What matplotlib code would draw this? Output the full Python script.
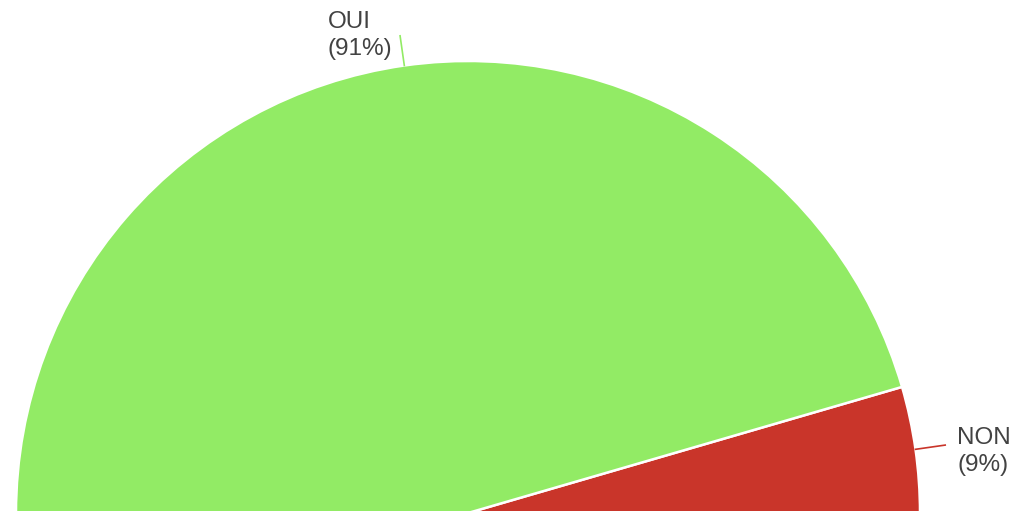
import numpy as np
import matplotlib.pyplot as plt

labels = ['NON', 'OUI']
values = [9, 91]
colors = ['#c9352a', '#92eb65']

W, H = 1011, 511
fig = plt.figure(figsize=(W / 100, H / 100), dpi=100)
ax = fig.add_axes([0, 0, 1, 1])

cx, cy, r = 468, -2, 452
# half pie: the second half of the circle is an invisible filler wedge
wedges, _ = ax.pie(values + [sum(values)], colors=colors + ['none'], startangle=0,
                   counterclock=True, center=(cx, cy), radius=r, frame=True,
                   wedgeprops=dict(edgecolor='white', linewidth=1.8, joinstyle='round'))
wedges[-1].set_edgecolor('none')
ax.set_xlim(0, W)
ax.set_ylim(0, H)
ax.axis('off')

total = sum(values)
start = 0
for lab, v, col in zip(labels, values, colors):
    span = 180 * v / total
    mid = np.deg2rad(start + span / 2)
    start += span
    x0, y0 = cx + r * np.cos(mid), cy + r * np.sin(mid)
    x1, y1 = cx + (r + 30) * np.cos(mid), cy + (r + 30) * np.sin(mid)
    ax.plot([x0, x1], [y0, y1], color=col, linewidth=1.2)
    txt = f'{lab}\n({round(100 * v / total)}%)'
    if np.cos(mid) < 0:
        ax.text(x1 - 8, y1, txt, ha='right', va='center', fontsize=17.5,
                color='#424242', family='Liberation Sans', linespacing=1.3,
                multialignment='left')
    else:
        ax.text(x1 + 12, y1 - 6, txt, ha='left', va='center', fontsize=17.5,
                color='#424242', family='Liberation Sans', linespacing=1.3,
                multialignment='left')

fig.savefig('out.png', dpi=100)
